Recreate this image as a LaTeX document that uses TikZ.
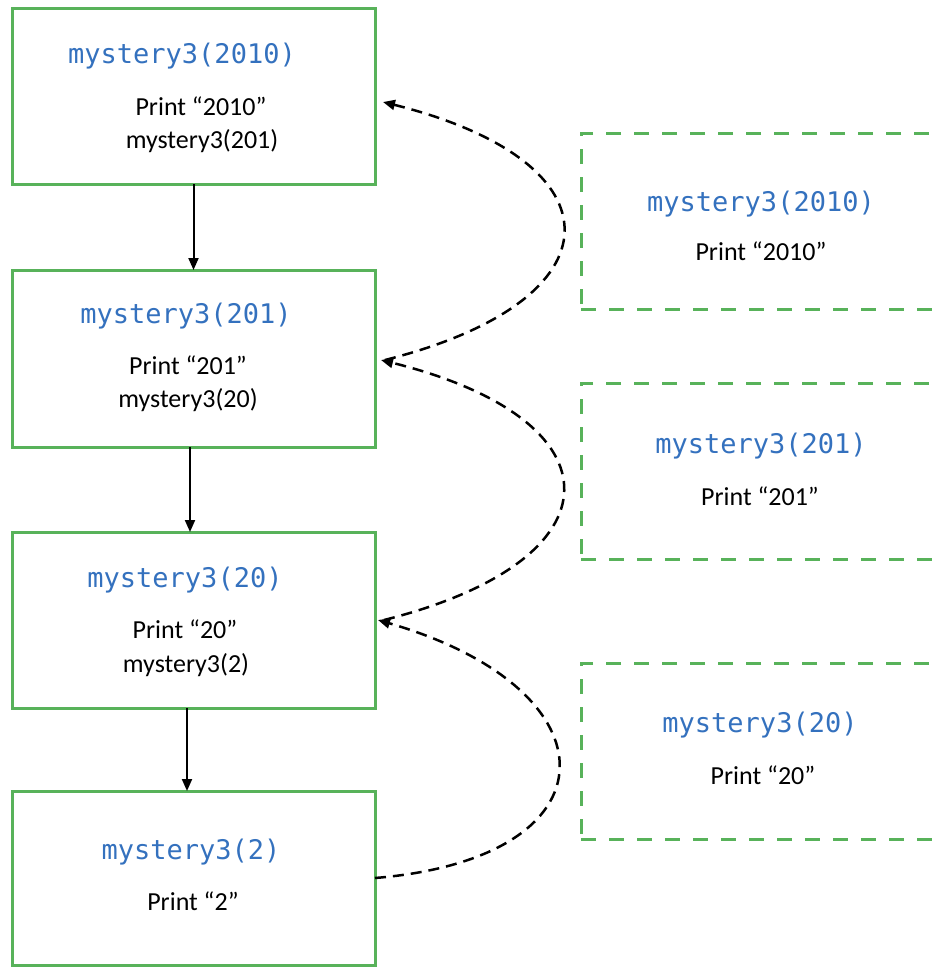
\documentclass[tikz,border=0pt]{standalone}
\usepackage{fontspec}
\setmainfont{Carlito}
\newfontfamily\codefont{DejaVu Sans Mono}
\usetikzlibrary{arrows.meta}
\definecolor{boxgreen}{RGB}{88,178,90}
\definecolor{codeblue}{RGB}{52,113,190}
\begin{document}
\begin{tikzpicture}[x=1pt,y=-1pt,
  callbox/.style={draw=boxgreen,line width=3pt,minimum width=363pt,inner sep=0pt,outer sep=0pt},
  retbox/.style={draw=boxgreen,line width=3pt,dash pattern=on 15pt off 13pt,minimum width=380pt,minimum height=176pt,inner sep=0pt,outer sep=0pt},
  code/.style={font=\codefont\fontsize{27}{32}\selectfont,text=codeblue,inner sep=0pt,anchor=base},
  txt/.style={font=\fontsize{26}{31}\selectfont,inner sep=0pt,anchor=base},
  call/.style={-{Triangle[length=12pt,width=10pt]},line width=2pt},
  ret/.style={-{Triangle[length=12pt,width=10pt]},line width=2.5pt,dash pattern=on 11pt off 7pt}]
\useasboundingbox (0,0) rectangle (937,967);
\clip (0,0) rectangle (937,967);

% call boxes
\node[callbox,minimum height=176pt] (b1) at (193.5,96) {};
\node[callbox,minimum height=177pt] (b2) at (193.5,358.5) {};
\node[callbox,minimum height=176pt] (b3) at (193.5,620) {};
\node[callbox,minimum height=174pt] (b4) at (193.5,878) {};

% return boxes
\node[retbox] (ra) at (771,221) {};
\node[retbox] (rb) at (771,471) {};
\node[retbox] (rc) at (771,751) {};

% texts in call boxes
\node[code] (t1) at (182,63) {mystery3(2010)};
\node[txt] (p1) at (201,115) {Print “2010”};
\node[txt] (c1) at (202,148) {mystery3(201)};

\node[code] (t2) at (186,323) {mystery3(201)};
\node[txt] (p2) at (188,374) {Print “201”};
\node[txt] (c2) at (188,407) {mystery3(20)};

\node[code] (t3) at (185,587) {mystery3(20)};
\node[txt] (p3) at (185,638) {Print “20”};
\node[txt] (c3) at (186,672) {mystery3(2)};

\node[code] (t4) at (191,859) {mystery3(2)};
\node[txt] (p4) at (193,910) {Print “2”};

% texts in return boxes
\node[code] (ta) at (761,211) {mystery3(2010)};
\node[txt] (pa) at (761,260) {Print “2010”};
\node[code] (tb) at (761,453) {mystery3(201)};
\node[txt] (pb) at (760,505) {Print “201”};
\node[code] (tc) at (760,732) {mystery3(20)};
\node[txt] (pc) at (763,784) {Print “20”};

% call arrows
\draw[call] (b1.south) -- (b2.north);
\draw[call] ([xshift=-3.5pt]b2.south) -- ([xshift=-3.5pt]b3.north);
\draw[call] ([xshift=-6.5pt]b3.south) -- ([xshift=-6.5pt]b4.north);

% return arrows
\draw[ret] ([xshift=10pt,yshift=-1.5pt]b2.east) .. controls (623,300) and (623,162) .. ([xshift=8pt,yshift=-6pt]b1.east);
\draw[ret] ([xshift=9pt]b3.east) .. controls (623,560) and (623,420) .. ([xshift=6pt,yshift=-1.5pt]b2.east);
\draw[ret] (b4.east) .. controls (619,858) and (619,690) .. ([xshift=3pt]b3.east);
\end{tikzpicture}
\end{document}
